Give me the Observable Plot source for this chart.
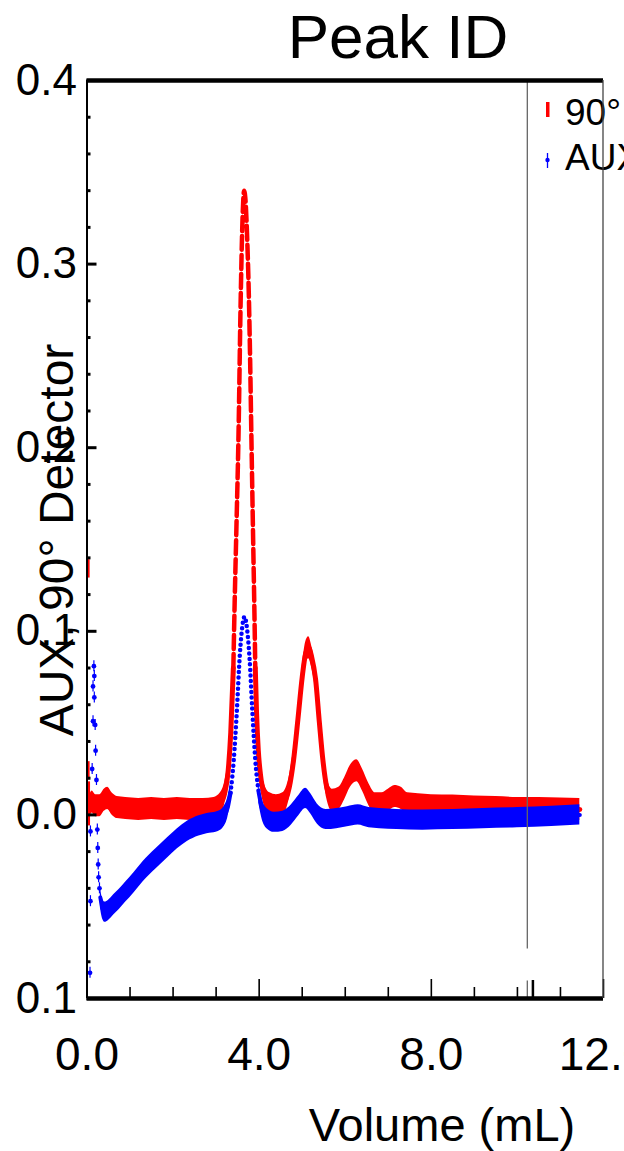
<!DOCTYPE html>
<html>
<head>
<meta charset="utf-8">
<script src="https://cdn.jsdelivr.net/npm/d3@7"></script>
<script src="https://cdn.jsdelivr.net/npm/@observablehq/plot@0.6"></script>
<style>
html, body { margin: 0; padding: 0; background: #fff; overflow: hidden; }
#chart { position: relative; width: 624px; height: 1151px; overflow: hidden; }
</style>
</head>
<body>
<div id="chart"></div>
<script>
// ---- texts ----
const title = "Peak ID";
const xLabel = "Volume (mL)";
const yLabel = "AUX, 90° Detector";
const seriesNames = ["90°", "AUX"];

// ---- axes ----
const xTicks = [0, 4, 8, 12];
const xTickLabels = ["0.0", "4.0", "8.0", "12.0"];
const xMinorTicks = [1, 2, 3, 5, 6, 7, 9, 10, 11];
const yTicks = [-0.1, 0, 0.1, 0.2, 0.3, 0.4];
const yTickLabels = ["0.1", "0.0", "0.1", "0.2", "0.3", "0.4"];
const yMinorTicks = [-0.08, -0.06, -0.04, -0.02, 0.02, 0.04, 0.06, 0.08, 0.12, 0.14, 0.16, 0.18,
                     0.22, 0.24, 0.26, 0.28, 0.32, 0.34, 0.36, 0.38];

// ---- 90° Detector (red) ----
const redX = [0.05, 0.12, 0.2, 0.3, 0.4, 0.48, 0.58, 0.7, 0.9, 1.2, 1.5, 1.8, 2.1, 2.4, 2.7, 2.95,
  3.1, 3.2, 3.28, 3.34, 3.40, 3.43, 3.47, 3.52, 3.57, 3.61, 3.65, 3.69, 3.72, 3.76, 3.79, 3.82,
  3.86, 3.89, 3.91, 3.94, 3.98, 4.03, 4.12, 4.25, 4.4, 4.55, 4.7, 4.8, 4.9, 5.0, 5.08, 5.15, 5.22,
  5.31, 5.4, 5.48, 5.57, 5.7, 5.85, 5.98, 6.12, 6.27, 6.4, 6.55, 6.7, 6.85, 7.0, 7.15, 7.3, 7.45,
  7.7, 8.0, 8.5, 9.0, 9.5, 10.0, 10.5, 11.0, 11.45];
const redY = [0.004, 0.007, 0.005, 0.005, 0.008, 0.009, 0.006, 0.004, 0.0035, 0.003, 0.0035, 0.003,
  0.0035, 0.003, 0.003, 0.0035, 0.006, 0.012, 0.024, 0.045, 0.08, 0.115, 0.155, 0.207, 0.28, 0.322,
  0.340, 0.332, 0.315, 0.283, 0.248, 0.205, 0.15, 0.11, 0.08, 0.055, 0.035, 0.022, 0.011, 0.006,
  0.005, 0.006, 0.015, 0.03, 0.052, 0.075, 0.088, 0.091, 0.086, 0.074, 0.05, 0.03, 0.015, 0.008,
  0.009, 0.014, 0.021, 0.024, 0.019, 0.011, 0.006, 0.006, 0.008, 0.010, 0.009, 0.006, 0.0055,
  0.005, 0.0048, 0.0043, 0.004, 0.0035, 0.0035, 0.0032, 0.003];
const redScatterX = [0.02, 0.02, 0.03];
const redScatterY = [0.134, 0.024, 0.006];
const redScatterErr = [0.005, 0.005, 0.012];

// ---- AUX (blue) ----
const blueX = [0.31, 0.36, 0.42, 0.5, 0.62, 0.75, 0.9, 1.09, 1.3, 1.6, 1.87, 2.1, 2.33, 2.6, 2.85,
  3.05, 3.18, 3.27, 3.335, 3.41, 3.48, 3.55, 3.61, 3.66, 3.72, 3.78, 3.84, 3.91, 3.99, 4.07, 4.18,
  4.35, 4.55, 4.75, 4.92, 5.08, 5.2, 5.35, 5.55, 5.8, 6.05, 6.3, 6.55, 6.8, 7.2, 7.8, 8.5, 9.2,
  10.0, 10.8, 11.45];
const blueY = [-0.045, -0.051, -0.053, -0.052, -0.049, -0.046, -0.042, -0.037, -0.031, -0.024,
  -0.018, -0.013, -0.009, -0.006, -0.0045, -0.0035, -0.001, 0.004, 0.012, 0.030, 0.056, 0.087,
  0.103, 0.108, 0.101, 0.084, 0.057, 0.030, 0.012, 0.003, -0.002, -0.004, -0.0035, 0.0, 0.005,
  0.009, 0.006, 0.0005, -0.0025, -0.002, -0.001, 0.0, -0.0015, -0.002, -0.0025, -0.0028, -0.0025,
  -0.002, -0.0015, -0.0008, 0.0];
const blueScatterX = [0.16, 0.17, 0.14, 0.17, 0.14, 0.19, 0.20, 0.12, 0.22, 0.24, 0.08, 0.25,
  0.26, 0.27, 0.29, 0.08, 0.07];
const blueScatterY = [0.081, 0.0756, 0.070, 0.064, 0.051, 0.049, 0.035, 0.025, 0.019, -0.008,
  -0.009, -0.018, -0.027, -0.034, -0.040, -0.047, -0.086];
const blueScatterErr = 0.003;

// ---- peak marker ----
const markerX = [10.23];
const markerTop = [0.4];
const markerBottom = [-0.073];
const markerTickX = [10.23, 10.36];
const markerTickTop = [-0.0905, -0.0902];

// ---- styles ----
const RED = "#ff0000", BLUE = "#0000ff";
const redHalf = 0.006, blueHalf = 0.0055;

const red = redX.map((x, i) => ({x, y: redY[i]}));
const blue = blueX.map((x, i) => ({x, y: blueY[i]}));
const redScatter = redScatterX.map((x, i) => ({x, y: redScatterY[i], e: redScatterErr[i]}));
const blueScatter = blueScatterX.map((x, i) => ({x, y: blueScatterY[i]}));
const markers = markerX.map((x, i) => ({x, y1: markerBottom[i], y2: markerTop[i]}));
const markerTicks = markerTickX.map((x, i) => ({x, y1: -0.1, y2: markerTickTop[i], k: i}));

const inRedPeak = d => d.x >= 3.3 && d.x <= 4.0;
const redSolid = d => !(inRedPeak(d) && d.y > 0.08);
const inBluePeak = d => d.x >= 3.2 && d.x <= 4.1;
const blueSolid = d => !(inBluePeak(d) && d.y > 0.012);

const plot = Plot.plot({
  width: 624,
  height: 1151,
  marginLeft: 86.5,
  marginRight: 21,
  marginTop: 80,
  marginBottom: 153,
  x: {domain: [0, 12]},
  y: {domain: [-0.1, 0.4]},
  style: {fontFamily: "'Liberation Sans', Arial, sans-serif", color: "#000", background: "#fff"},
  marks: [
    // red series
    Plot.area(red, {x1: "x", y1: d => redSolid(d) ? d.y - redHalf : NaN, y2: d => redSolid(d) ? d.y + redHalf : NaN,
      fill: RED, curve: "monotone-x"}),
    Plot.line(red, {x: "x", y: d => redSolid(d) ? d.y : NaN, stroke: RED, strokeWidth: 5, curve: "monotone-x"}),
    Plot.line(red.filter(d => inRedPeak(d) && d.y >= 0.08), {x: "x", y: "y", stroke: RED, strokeWidth: 4.5,
      strokeDasharray: "14,5", curve: "monotone-x"}),
    Plot.ruleX(redScatter, {x: "x", y1: d => d.y - d.e, y2: d => d.y + d.e, stroke: RED, strokeWidth: 3.5}),
    // blue series
    Plot.area(blue, {x1: "x", y1: d => blueSolid(d) ? d.y - blueHalf : NaN, y2: d => blueSolid(d) ? d.y + blueHalf : NaN,
      fill: BLUE, curve: "monotone-x"}),
    Plot.line(blue, {x: "x", y: d => blueSolid(d) ? d.y : NaN, stroke: BLUE, strokeWidth: 4, curve: "monotone-x"}),
    Plot.line(blue.filter(d => inBluePeak(d) && d.y >= 0.012), {x: "x", y: "y", stroke: BLUE, strokeWidth: 4.5,
      strokeDasharray: "0,5.5", strokeLinecap: "round", curve: "monotone-x"}),
    Plot.ruleX(blueScatter, {x: "x", y1: d => d.y - blueScatterErr, y2: d => d.y + blueScatterErr, stroke: BLUE, strokeWidth: 1.2}),
    Plot.dot(blueScatter, {x: "x", y: "y", r: 2.4, fill: BLUE}),
    // peak marker
    Plot.ruleX(markers, {x: "x", y1: "y1", y2: "y2", stroke: "#666", strokeWidth: 1.3}),
    Plot.ruleX(markerTicks, {x: "x", y1: "y1", y2: "y2", stroke: d => d.k ? "#000" : "#666", strokeWidth: d => d.k ? 2.5 : 1.3}),
    // axes ticks (inward)
    Plot.axisY({ticks: yMinorTicks, anchor: "left", tickSize: -4, strokeWidth: 3, fill: "none", label: null}),
    Plot.axisY({ticks: yTicks, anchor: "left", tickSize: -10, strokeWidth: 3, fill: "none", label: null}),
    Plot.axisY({ticks: yTicks, anchor: "left", tickSize: 0, tickPadding: 10, fontSize: 44,
      tickFormat: d => yTickLabels[yTicks.indexOf(d)], label: null}),
    Plot.axisX({ticks: xMinorTicks, anchor: "bottom", tickSize: -11, strokeWidth: 1.6, fill: "none", label: null}),
    Plot.axisX({ticks: xTicks, anchor: "bottom", tickSize: -19, strokeWidth: 1.6, fill: "none", label: null}),
    Plot.axisX({ticks: xTicks, anchor: "bottom", tickSize: 0, tickPadding: 39, fontSize: 46,
      tickFormat: d => xTickLabels[xTicks.indexOf(d)], label: null}),
    // frame
    Plot.ruleX([0], {stroke: "#000", strokeWidth: 2}),
    Plot.ruleY([0.4], {stroke: "#000", strokeWidth: 4.5}),
    Plot.ruleY([-0.1], {stroke: "#000", strokeWidth: 4.5})
  ]
});

document.getElementById("chart").appendChild(plot);
const svg = d3.select(plot);
const font = "'Liberation Sans', Arial, sans-serif";

svg.append("text").attr("x", 398).attr("y", 58).attr("text-anchor", "middle")
  .attr("font-family", font).attr("font-size", 62).attr("fill", "#000").text(title);
svg.append("text").attr("x", 442).attr("y", 1141).attr("text-anchor", "middle")
  .attr("font-family", font).attr("font-size", 47).attr("fill", "#000").text(xLabel);
svg.append("text").attr("transform", "translate(73,540) rotate(-90)").attr("text-anchor", "middle")
  .attr("font-family", font).attr("font-size", 48).attr("fill", "#000").text(yLabel);

// legend
const lg = svg.append("g");
lg.append("rect").attr("x", 546).attr("y", 102).attr("width", 3.5).attr("height", 15).attr("fill", RED);
lg.append("line").attr("x1", 547.5).attr("x2", 547.5).attr("y1", 153).attr("y2", 168)
  .attr("stroke", BLUE).attr("stroke-width", 1.3);
lg.append("circle").attr("cx", 547.5).attr("cy", 160).attr("r", 2.2).attr("fill", BLUE);
lg.append("text").attr("x", 565).attr("y", 125).attr("text-anchor", "start").attr("font-family", font)
  .attr("font-size", 37).attr("fill", "#000").text(seriesNames[0]);
lg.append("text").attr("x", 565).attr("y", 170).attr("text-anchor", "start").attr("font-family", font)
  .attr("font-size", 37).attr("fill", "#000").text(seriesNames[1]);
// the frame's right edge passes over the legend text, as in the reference
svg.append("line").attr("x1", 603).attr("x2", 603).attr("y1", 80).attr("y2", 998)
  .attr("stroke", "#444").attr("stroke-width", 1.3);
</script>
</body>
</html>
